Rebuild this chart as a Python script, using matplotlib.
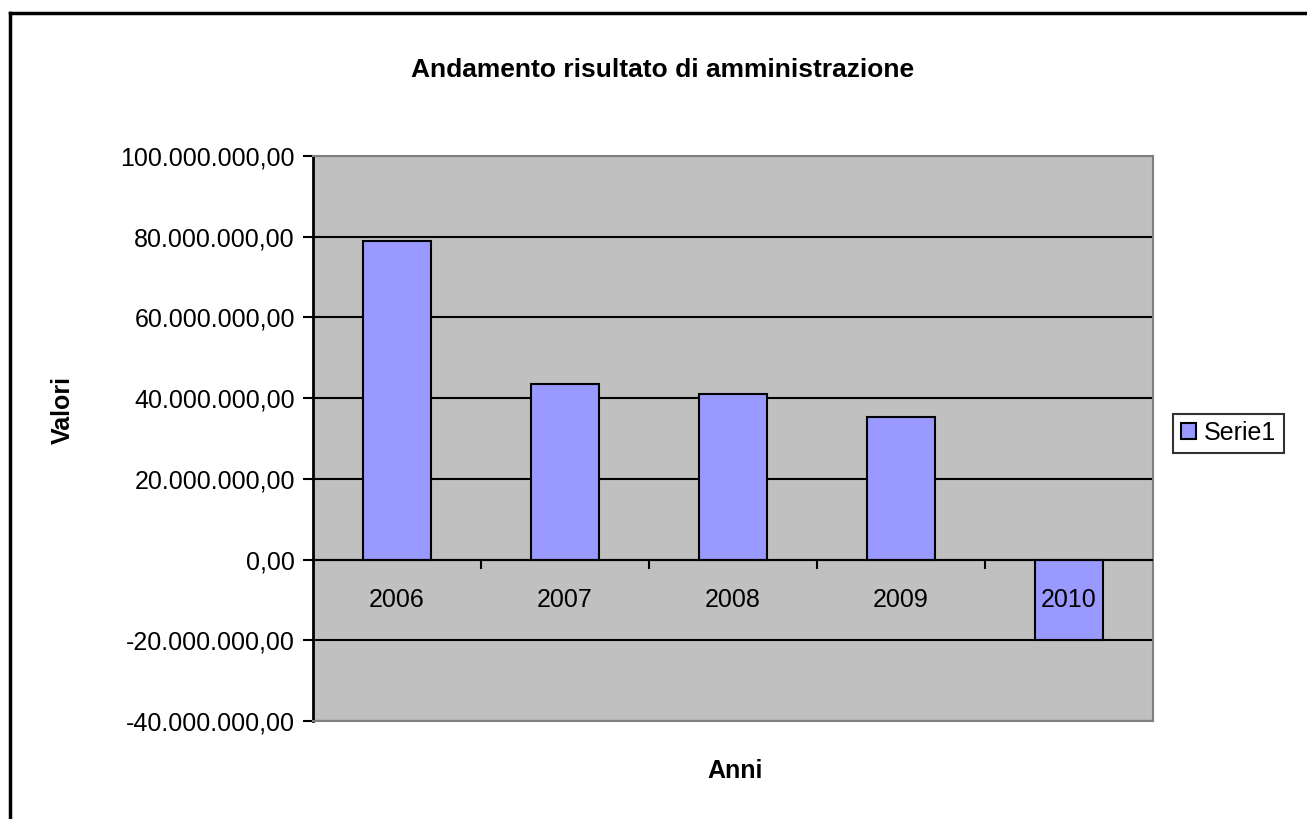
import matplotlib.pyplot as plt
import matplotlib.ticker as mticker
import numpy as np

plt.rcParams['font.family'] = ['Liberation Sans', 'DejaVu Sans']

anni = ['2006', '2007', '2008', '2009', '2010']
valori = [79000000, 43400000, 41000000, 35400000, -19950000]
yticks = [-40000000, -20000000, 0, 20000000, 40000000, 60000000, 80000000, 100000000]


def fmt_it(v, pos=None):
    s = f"{abs(v):,.2f}".replace(',', 'X').replace('.', ',').replace('X', '.')
    return ('-' if v < 0 else '') + s


fig = plt.figure(figsize=(13.07, 8.19), dpi=100)
ax = fig.add_axes([313 / 1307, 98 / 819, 840 / 1307, 565 / 819])
ax.set_facecolor('#c0c0c0')

x = np.arange(len(anni))
ax.bar(x, valori, width=0.4, color='#9999ff', edgecolor='black', linewidth=1.5,
       label='Serie1', zorder=3)

ax.set_xlim(-0.5, len(anni) - 0.5)
ax.set_ylim(yticks[0], yticks[-1])
ax.set_yticks(yticks)
ax.yaxis.set_major_formatter(mticker.FuncFormatter(fmt_it))
ax.grid(axis='y', color='black', linewidth=1.5, zorder=1)
ax.tick_params(axis='y', direction='out', length=7, width=1.5, labelsize=18, pad=6)

# categorie sotto l'asse dello zero
ax.set_xticks([])
for i, a in enumerate(anni):
    ax.text(i, -10000000, a, ha='center', va='center', fontsize=18, zorder=5)
for b in np.arange(0.5, len(anni) - 0.5):
    ax.plot([b, b], [0, -2000000], color='black', linewidth=1.5, zorder=4)
ax.axhline(0, color='black', linewidth=1.5, zorder=4)

for side in ['top', 'right', 'bottom']:
    ax.spines[side].set_color('#808080')
    ax.spines[side].set_linewidth(1.5)
ax.spines['left'].set_color('black')
ax.spines['left'].set_linewidth(2)

fig.text(663 / 1307, 1 - 70 / 819, 'Andamento risultato di amministrazione',
         ha='center', va='center', fontsize=19, fontweight='bold')
fig.text(735 / 1307, 1 - 771 / 819, 'Anni', ha='center', va='center',
         fontsize=18, fontweight='bold')
fig.text(63 / 1307, 1 - 410 / 819, 'Valori', ha='center', va='center',
         fontsize=18, fontweight='bold', rotation=90)

leg = fig.legend(loc='center left', bbox_to_anchor=(1173 / 1307, 1 - 433 / 819),
                 fontsize=18, frameon=True, fancybox=False, edgecolor='black',
                 handlelength=0.6, handleheight=0.6, handletextpad=0.35,
                 borderpad=0.3, borderaxespad=0)
leg.get_frame().set_linewidth(1.5)

# cornice esterna del grafico
fig.add_artist(plt.Line2D([10 / 1307, 10 / 1307], [0, 1 - 13 / 819],
                          transform=fig.transFigure, color='black', linewidth=2.5))
fig.add_artist(plt.Line2D([10 / 1307, 1], [1 - 13 / 819, 1 - 13 / 819],
                          transform=fig.transFigure, color='black', linewidth=2.5))

fig.savefig('out.png', dpi=100)
